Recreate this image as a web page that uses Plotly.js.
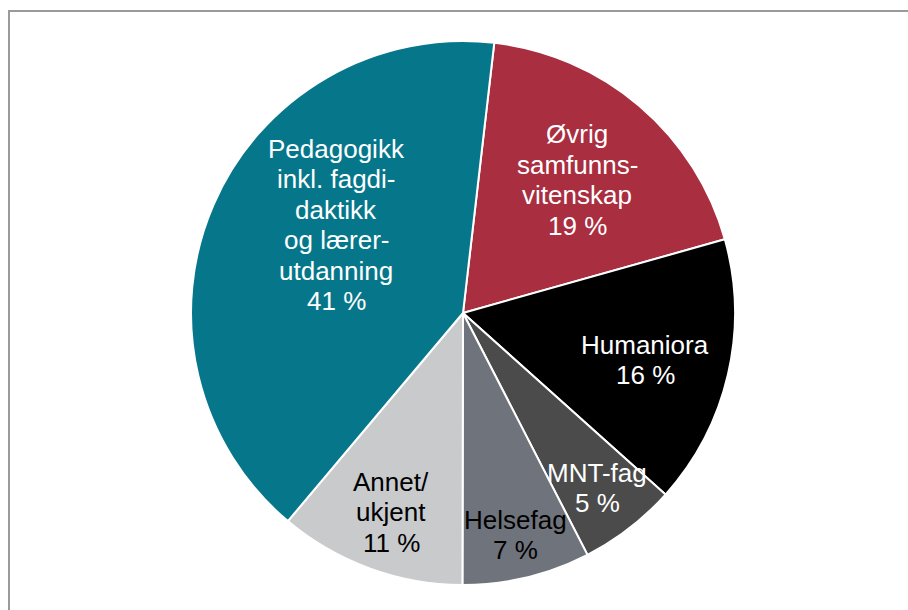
<!DOCTYPE html>
<html>
<head>
<meta charset="utf-8">
<script src="https://cdn.plot.ly/plotly-3.0.1.min.js"></script>
<style>html,body{margin:0;padding:0;background:#fff;}#chart{width:908px;height:610px;}</style>
</head>
<body>
<div id="chart"></div>
<script>
// Data (clockwise from the top)
const categories = ["Øvrig samfunnsvitenskap", "Humaniora", "MNT-fag", "Helsefag", "Annet/ukjent", "Pedagogikk inkl. fagdidaktikk og lærerutdanning"];
const shares = [18.8, 16.0, 5.8, 7.6, 11.1, 40.7];
const labelLines = [
  ["Øvrig", "samfunns-", "vitenskap", "19 %"],
  ["Humaniora", "16 %"],
  ["MNT-fag", "5 %"],
  ["Helsefag", "7 %"],
  ["Annet/", "ukjent", "11 %"],
  ["Pedagogikk", "inkl. fagdi-", "daktikk", "og lærer-", "utdanning", "41 %"]
];
const sliceColors = ["#A82E40", "#000000", "#4B4B4B", "#6F737B", "#C8CACC", "#06778A"];
const labelColors = ["#ffffff", "#ffffff", "#ffffff", "#000000", "#000000", "#ffffff"];
const labelPos = [[577, 180], [645, 360], [597, 488], [515, 535], [391, 512], [336, 225]];

const W = 908, H = 610;
const cx = 463, cy = 313, R = 272;
const lineGap = 30.5;

const trace = {
  type: 'pie',
  labels: categories,
  values: shares,
  sort: false,
  direction: 'clockwise',
  rotation: 6.6,
  marker: {colors: sliceColors, line: {color: '#ffffff', width: 2}},
  textinfo: 'none',
  hoverinfo: 'label+percent',
  showlegend: false,
  domain: {x: [(cx - R) / W, (cx + R) / W], y: [1 - (cy + R) / H, 1 - (cy - R) / H]}
};

const annotations = [];
labelLines.forEach((lines, i) => {
  const n = lines.length;
  lines.forEach((t, j) => {
    const py = labelPos[i][1] + (j - (n - 1) / 2) * lineGap;
    annotations.push({
      xref: 'paper', yref: 'paper',
      x: labelPos[i][0] / W, y: 1 - py / H,
      xanchor: 'center', yanchor: 'middle',
      text: t, showarrow: false, align: 'center',
      font: {family: 'Liberation Sans, Arial, sans-serif', size: 26, color: labelColors[i]}
    });
  });
});

const layout = {
  width: W, height: H,
  margin: {l: 0, r: 0, t: 0, b: 0},
  paper_bgcolor: '#ffffff',
  plot_bgcolor: '#ffffff',
  annotations: annotations,
  shapes: [{
    type: 'rect', xref: 'paper', yref: 'paper',
    x0: 9 / W, x1: 1.05, y0: -0.05, y1: 1 - 11 / H,
    line: {color: '#9a9a9a', width: 2}, fillcolor: 'rgba(0,0,0,0)', layer: 'below'
  }]
};

Plotly.newPlot('chart', [trace], layout, {displayModeBar: false, staticPlot: true});
</script>
</body>
</html>
